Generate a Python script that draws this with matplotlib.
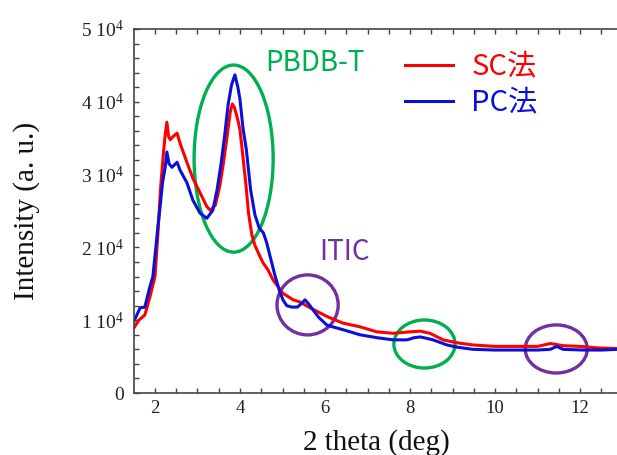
import matplotlib
matplotlib.use('Agg')
import matplotlib.pyplot as plt
from matplotlib.patches import Ellipse
from matplotlib.ticker import MultipleLocator, FuncFormatter

plt.rcParams['mathtext.fontset'] = 'custom'
plt.rcParams['mathtext.rm'] = 'Liberation Serif'
plt.rcParams['mathtext.default'] = 'rm'

# ---- data ----
sc_x = [1.5, 1.62, 1.76, 1.88, 2.0, 2.07, 2.13, 2.19, 2.24, 2.28, 2.32, 2.36, 2.42, 2.52,
        2.59, 2.67, 2.75, 2.89, 3.06, 3.22, 3.30, 3.42, 3.53, 3.62, 3.70, 3.77, 3.82, 3.87,
        3.95, 4.0, 4.07, 4.14, 4.20, 4.28, 4.35, 4.45, 4.54, 4.66, 4.78, 5.01, 5.25, 5.41,
        5.65, 6.05, 6.42, 6.82, 7.22, 7.6, 8.0, 8.24, 8.47, 8.78, 9.1, 9.48, 10.0, 10.5,
        11.0, 11.3, 11.6, 12.0, 12.4, 12.9]
sc_y = [8900, 10000, 10700, 13200, 16000, 22000, 28000, 32400, 35500, 37200, 35200, 34800,
        35200, 35700, 34300, 33000, 31700, 29500, 27500, 25600, 25100, 25800, 28600, 32000,
        35400, 38600, 39700, 39200, 37500, 36100, 32400, 28600, 24700, 21700, 20300, 19000,
        17900, 16900, 15500, 13700, 12800, 12500, 11700, 10500, 9600, 9100, 8400, 8200, 8400,
        8500, 8200, 7300, 6900, 6600, 6400, 6400, 6400, 6800, 6500, 6400, 6200, 6100]

pc_x = [1.5, 1.65, 1.76, 1.88, 1.95, 2.02, 2.07, 2.12, 2.18, 2.24, 2.28, 2.33, 2.40, 2.52,
        2.59, 2.75, 2.89, 3.06, 3.22, 3.36, 3.46, 3.55, 3.64, 3.72, 3.80, 3.88, 3.95, 4.0,
        4.07, 4.15, 4.25, 4.35, 4.45, 4.55, 4.63, 4.72, 4.82, 4.92, 5.01, 5.1, 5.22, 5.35,
        5.45, 5.53, 5.62, 5.72, 5.85, 6.05, 6.42, 6.82, 7.22, 7.6, 7.93, 8.1, 8.24, 8.4,
        8.54, 8.87, 9.1, 9.48, 10.0, 10.5, 11.0, 11.3, 11.45, 11.6, 12.06, 12.5, 12.9]
pc_y = [9800, 11700, 11800, 14600, 16000, 20000, 23000, 25600, 29000, 31000, 33100, 31500,
        31000, 31700, 30600, 28900, 26500, 24700, 24000, 25100, 27900, 31300, 35400, 39600,
        42300, 43700, 42000, 40300, 36400, 33400, 27900, 24500, 22700, 22000, 20600, 18500,
        16200, 14200, 12800, 12000, 11800, 11800, 12300, 12800, 12200, 11400, 10400, 9300,
        8700, 8000, 7600, 7300, 7300, 7600, 7700, 7500, 7300, 6600, 6300, 6000, 5900, 5900,
        5900, 6000, 6400, 6000, 5900, 5900, 6000]

series_labels = ['SC法', 'PC法']
series_colors = ['#FF0000', '#0A10D8']

# annotation ellipses: (center x, center y, width, height, color)
ellipses = [
    (3.85, 32200, 1.86, 25700, '#00B050'),
    (5.59, 12100, 1.44, 8240, '#7030A0'),
    (8.34, 6730, 1.44, 6600, '#00B050'),
    (11.44, 6050, 1.46, 6600, '#7030A0'),
]
notes = [('PBDB-T', 5.76, 45300, '#00B050'), ('ITIC', 6.47, 19400, '#7030A0')]

serif = 'Liberation Serif'
cjk = ['Noto Sans CJK JP', 'DejaVu Sans']

fig = plt.figure(figsize=(6.17, 4.55), dpi=100)
ax = fig.add_axes([134/617, 1-393/455, (617-134)/617, (393-29)/455])

ax.plot(sc_x, sc_y, color=series_colors[0], lw=2.2, label=series_labels[0])
ax.plot(pc_x, pc_y, color=series_colors[1], lw=2.2, label=series_labels[1])

for cx, cy, w, h, c in ellipses:
    ax.add_patch(Ellipse((cx, cy), w, h, fill=False, edgecolor=c, lw=2.4))

for t, x, y, c in notes:
    ax.text(x, y, t, color=c, fontsize=20, family=cjk, ha='center', va='center')

ax.set_xlim(1.506, 12.87)
ax.set_ylim(0, 50000)

ax.xaxis.set_major_locator(MultipleLocator(2))
ax.xaxis.set_minor_locator(MultipleLocator(0.5))
ax.yaxis.set_major_locator(MultipleLocator(10000))
ax.yaxis.set_minor_locator(MultipleLocator(2000))
ax.yaxis.set_major_formatter(FuncFormatter(
    lambda v, p: '0' if v == 0 else f'{int(round(v/1e4))} 10$^{{4}}$'))

for s in ['left', 'bottom', 'top']:
    ax.spines[s].set_color('#444444')
    ax.spines[s].set_linewidth(1.2)
ax.spines['right'].set_visible(False)

ax.tick_params(which='both', direction='in', length=3.6, width=1, color='#444444',
               top=True, right=False)
ax.tick_params(axis='x', which='major', pad=5, labelsize=13.5)
ax.tick_params(axis='y', which='major', pad=7, labelsize=14)
for lab in ax.get_xticklabels() + ax.get_yticklabels():
    lab.set_family(serif)
    lab.set_color('#222222')

ax.set_xlabel('2 theta (deg)', family=serif, fontsize=21, color='#111111')
ax.set_ylabel('Intensity (a. u.)', family=serif, fontsize=21, color='#111111')
ax.xaxis.set_label_coords((376.5-134)/483, -0.098)
ax.yaxis.set_label_coords(-0.195, 0.5)

leg = ax.legend(loc='upper left', bbox_to_anchor=(405/617, 1-52/455),
                bbox_transform=fig.transFigure, frameon=False,
                prop={'family': cjk, 'size': 21}, handlelength=1.65,
                handletextpad=0.62, labelspacing=0.2, borderaxespad=0, borderpad=0)
for txt, c in zip(leg.get_texts(), series_colors):
    txt.set_color(c)

fig.savefig('out.png', dpi=100)
